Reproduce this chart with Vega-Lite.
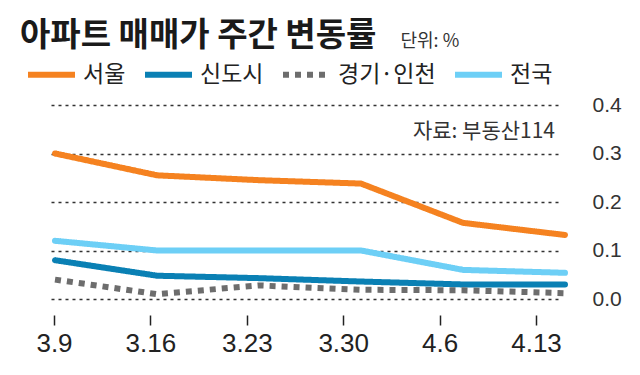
{
  "$schema": "https://vega.github.io/schema/vega-lite/v6.json",
  "width": 557,
  "height": 194,
  "autosize": {"type": "none"},
  "padding": {"left": 28, "top": 105, "right": 55, "bottom": 76},
  "background": "white",
  "config": {"view": {"stroke": null}, "font": "Noto Sans CJK KR"},
  "title": {
    "text": "아파트 매매가 주간 변동률",
    "anchor": "start",
    "frame": "group",
    "font": "Noto Sans CJK KR",
    "fontSize": 33,
    "fontWeight": "bold",
    "color": "#1a1a1a",
    "baseline": "alphabetic",
    "dx": -8,
    "offset": -47
  },
  "data": {
    "values": [
      {"week": "3.9", "series": "서울", "value": 0.30},
      {"week": "3.16", "series": "서울", "value": 0.255},
      {"week": "3.23", "series": "서울", "value": 0.245},
      {"week": "3.30", "series": "서울", "value": 0.238},
      {"week": "4.6", "series": "서울", "value": 0.157},
      {"week": "4.13", "series": "서울", "value": 0.132},
      {"week": "3.9", "series": "신도시", "value": 0.08},
      {"week": "3.16", "series": "신도시", "value": 0.048},
      {"week": "3.23", "series": "신도시", "value": 0.043},
      {"week": "3.30", "series": "신도시", "value": 0.036},
      {"week": "4.6", "series": "신도시", "value": 0.03},
      {"week": "4.13", "series": "신도시", "value": 0.03},
      {"week": "3.9", "series": "경기·인천", "value": 0.04},
      {"week": "3.16", "series": "경기·인천", "value": 0.01},
      {"week": "3.23", "series": "경기·인천", "value": 0.028},
      {"week": "3.30", "series": "경기·인천", "value": 0.019},
      {"week": "4.6", "series": "경기·인천", "value": 0.018},
      {"week": "4.13", "series": "경기·인천", "value": 0.012},
      {"week": "3.9", "series": "전국", "value": 0.12},
      {"week": "3.16", "series": "전국", "value": 0.10},
      {"week": "3.23", "series": "전국", "value": 0.10},
      {"week": "3.30", "series": "전국", "value": 0.10},
      {"week": "4.6", "series": "전국", "value": 0.06},
      {"week": "4.13", "series": "전국", "value": 0.054}
    ]
  },
  "layer": [
    {
      "layer": [
        {
          "transform": [{"filter": "datum.series !== '경기·인천'"}],
          "mark": {"type": "line", "strokeWidth": 6, "strokeCap": "round", "strokeJoin": "round"},
          "encoding": {
            "x": {"field": "week", "type": "ordinal", "sort": null, "scale": {"type": "point", "range": [27, 537], "padding": 0}, "axis": null},
            "y": {
              "field": "value", "type": "quantitative",
              "scale": {"domain": [0, 0.4]},
              "axis": {
                "orient": "right", "values": [0, 0.1, 0.2, 0.3, 0.4], "format": ".1f",
                "grid": true, "gridDash": [3, 4], "gridColor": "#333", "gridWidth": 1.5,
                "domain": false, "ticks": false, "labelPadding": 7,
                "labelFont": "Liberation Sans", "labelFontSize": 21, "labelColor": "#333",
                "title": "단위: %", "titleAngle": 0, "titleX": -185, "titleY": -59,
                "titleAlign": "left", "titleBaseline": "alphabetic",
                "titleFont": "Noto Sans CJK KR", "titleFontSize": 18, "titleFontWeight": "normal", "titleColor": "#333"
              }
            },
            "color": {
              "field": "series", "type": "nominal",
              "scale": {"domain": ["서울", "신도시", "경기·인천", "전국"], "range": ["#F58220", "#0A80B4", "#6D6D6D", "#6DCFF6"]},
              "legend": {
                "title": null, "orient": "none", "legendX": -3, "legendY": -57,
                "direction": "horizontal", "columns": 4, "padding": 0,
                "symbolType": "stroke", "symbolSize": 2209, "symbolStrokeWidth": 6,
                "labelFont": "Noto Sans CJK KR", "labelFontSize": 23, "labelColor": "#222",
                "labelOffset": 5, "columnPadding": 7
              }
            },
            "strokeDash": {
              "field": "series", "type": "nominal",
              "scale": {"domain": ["서울", "신도시", "경기·인천", "전국"], "range": [[1, 0], [1, 0], [6, 6], [1, 0]]},
              "legend": {"title": null}
            }
          }
        },
        {
          "transform": [{"filter": "datum.series === '경기·인천'"}],
          "mark": {"type": "line", "strokeWidth": 6, "strokeCap": "butt"},
          "encoding": {
            "x": {"field": "week", "type": "ordinal", "sort": null},
            "y": {"field": "value", "type": "quantitative"},
            "color": {"field": "series", "type": "nominal"},
            "strokeDash": {"field": "series", "type": "nominal"}
          }
        },
        {
          "transform": [{"filter": "datum.series === '서울' && datum.week === '4.13'"}],
          "mark": {"type": "text", "align": "right", "baseline": "middle", "dx": -10, "fontSize": 21, "color": "#333", "font": "Noto Sans CJK KR"},
          "encoding": {
            "x": {"field": "week", "type": "ordinal", "sort": null},
            "y": {"datum": 0.344, "type": "quantitative"},
            "text": {"value": "자료: 부동산114"}
          }
        }
      ]
    },
    {
      "transform": [{"filter": "datum.series === '서울'"}],
      "mark": {"type": "point", "opacity": 0},
      "encoding": {
        "x": {
          "field": "week", "type": "ordinal", "sort": null,
          "scale": {"type": "point", "range": [26, 508], "padding": 0},
          "axis": {
            "orient": "bottom", "offset": 16, "domain": false, "ticks": true,
            "tickSize": 10, "tickWidth": 1.5, "tickColor": "#222",
            "labelFont": "Liberation Sans", "labelFontSize": 26, "labelColor": "#222",
            "labelPadding": 5, "labelAngle": 0, "title": null, "grid": false
          }
        }
      }
    }
  ],
  "resolve": {"scale": {"x": "independent"}}
}
